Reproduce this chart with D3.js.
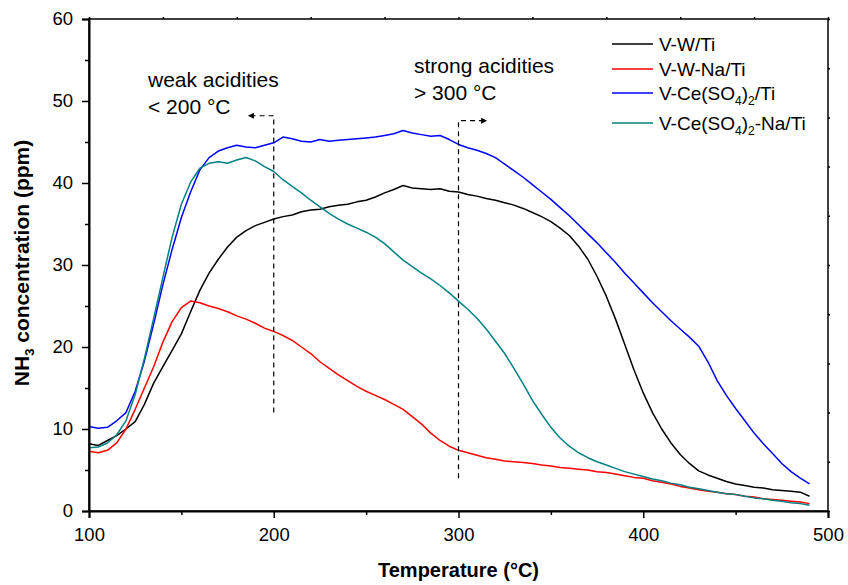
<!DOCTYPE html>
<html>
<head>
<meta charset="utf-8">
<script src="https://cdn.jsdelivr.net/npm/d3@7"></script>
<style>
  body { margin: 0; background: #fff; }
  text { font-family: "Liberation Sans", Arial, sans-serif; }
</style>
</head>
<body>
<svg id="chart" width="848" height="585"></svg>
<script>
// temperature (°C), one reading every 5 degrees
const temps = d3.range(100, 491, 5);

const vwTi = [8.2,8.0,8.6,9.2,10.0,10.9,13.0,15.6,17.6,19.6,
  21.6,24.3,26.9,29.0,30.7,32.2,33.4,34.2,34.8,35.2,
  35.6,35.9,36.1,36.5,36.7,36.8,37.1,37.3,37.4,37.7,
  37.9,38.3,38.8,39.2,39.7,39.4,39.3,39.2,39.3,39.0,
  38.9,38.6,38.4,38.1,37.9,37.6,37.3,36.9,36.4,35.9,
  35.3,34.5,33.6,32.3,30.7,28.6,26.2,23.4,20.3,17.2,
  14.4,12.0,10.0,8.3,6.9,5.8,4.9,4.4,4.0,3.6,
  3.3,3.1,2.9,2.8,2.6,2.5,2.4,2.3,1.8];

const vwNaTi = [7.3,7.1,7.4,8.3,10.0,12.4,15.0,17.6,20.6,23.1,
  24.8,25.6,25.4,25.0,24.7,24.3,23.8,23.4,22.9,22.3,
  21.9,21.4,20.8,20.0,19.2,18.2,17.4,16.6,15.9,15.2,
  14.6,14.1,13.6,13.0,12.4,11.5,10.6,9.5,8.6,7.9,
  7.4,7.1,6.8,6.5,6.3,6.1,6.0,5.9,5.8,5.6,
  5.5,5.3,5.2,5.1,5.0,4.8,4.7,4.5,4.3,4.1,
  4.0,3.7,3.5,3.3,3.0,2.8,2.6,2.4,2.3,2.1,
  2.0,1.8,1.7,1.5,1.4,1.3,1.2,1.1,0.9];

const vCeTi = [10.3,10.1,10.2,11.0,12.0,14.6,18.3,22.8,27.6,31.9,
  35.8,38.9,41.6,43.1,43.9,44.3,44.6,44.4,44.3,44.6,
  44.9,45.6,45.4,45.1,45.0,45.3,45.1,45.2,45.3,45.4,
  45.5,45.6,45.8,46.0,46.4,46.1,45.9,45.7,45.8,45.3,
  44.7,44.3,44.0,43.6,43.1,42.3,41.5,40.7,39.8,38.9,
  38.0,37.0,36.0,34.9,33.8,32.7,31.5,30.3,29.0,27.8,
  26.6,25.4,24.3,23.2,22.2,21.2,20.1,18.2,15.9,14.1,
  12.5,11.0,9.5,8.2,7.0,5.8,4.8,4.0,3.3];

const vCeNaTi = [7.7,7.8,8.3,9.3,11.0,14.2,18.6,23.5,28.5,33.4,
  37.4,40.1,41.8,42.4,42.6,42.4,42.8,43.1,42.7,42.0,
  41.4,40.4,39.6,38.8,37.9,37.1,36.3,35.6,35.0,34.5,
  34.0,33.4,32.6,31.6,30.6,29.8,29.0,28.3,27.5,26.6,
  25.6,24.6,23.5,22.2,20.7,19.2,17.4,15.5,13.5,11.8,
  10.2,8.9,7.9,7.1,6.5,6.0,5.6,5.2,4.8,4.5,
  4.2,3.9,3.7,3.4,3.2,2.9,2.7,2.5,2.3,2.1,
  2.0,1.8,1.6,1.5,1.3,1.2,1.0,0.9,0.7];

const xTicks = [100, 200, 300, 400, 500];
const yTicks = [0, 10, 20, 30, 40, 50, 60];

const series = [
  {name: [["V-W/Ti"]], values: vwTi, color: "#000000"},
  {name: [["V-W-Na/Ti"]], values: vwNaTi, color: "#ff0000"},
  {name: [["V-Ce(SO"], ["4", "sub"], [")"], ["2", "sub"], ["/Ti"]], values: vCeTi, color: "#0000ff"},
  {name: [["V-Ce(SO"], ["4", "sub"], [")"], ["2", "sub"], ["-Na/Ti"]], values: vCeNaTi, color: "#008080"}
];

const plotLeft = 89, plotRight = 828, plotTop = 19, plotBottom = 511;
const svg = d3.select("#chart");

const x = d3.scaleLinear().domain([100, 500]).range([plotLeft, plotRight]);
const y = d3.scaleLinear().domain([0, 60]).range([plotBottom, plotTop]);

// curves
const line = d3.line()
  .x((d, i) => x(temps[i]))
  .y(d => y(d));

svg.append("g")
  .selectAll("path")
  .data(series)
  .join("path")
    .attr("fill", "none")
    .attr("stroke", d => d.color)
    .attr("stroke-width", 1.5)
    .attr("stroke-linejoin", "round")
    .attr("d", d => line(d.values));

// frame + mirror ticks on top/right
svg.append("rect")
  .attr("x", plotLeft).attr("y", plotTop)
  .attr("width", plotRight - plotLeft).attr("height", plotBottom - plotTop)
  .attr("fill", "none").attr("stroke", "#000").attr("stroke-width", 1.5);

const xTop = d3.scaleLinear().domain([0, 10]).range([plotLeft, plotRight]);
const yRight = d3.scaleLinear().domain([0, 10]).range([plotBottom, plotTop]);
svg.append("g")
  .attr("transform", `translate(0,${plotTop})`)
  .call(d3.axisTop(xTop).ticks(10).tickSize(2).tickFormat(""))
  .call(g => g.select(".domain").remove());
svg.append("g")
  .attr("transform", `translate(${plotRight},0)`)
  .call(d3.axisRight(yRight).ticks(10).tickSize(2).tickFormat(""))
  .call(g => g.select(".domain").remove());

// bottom axis
const xAxis = svg.append("g")
  .attr("transform", `translate(0,${plotBottom})`)
  .call(d3.axisBottom(x).tickValues(xTicks).tickSize(7).tickPadding(10).tickFormat(d3.format("d")));
svg.append("g")
  .attr("transform", `translate(0,${plotBottom})`)
  .call(d3.axisBottom(x).tickValues([150, 250, 350, 450]).tickSize(4).tickFormat(""))
  .call(g => g.select(".domain").remove());

// left axis
const yAxis = svg.append("g")
  .attr("transform", `translate(${plotLeft},0)`)
  .call(d3.axisLeft(y).tickValues(yTicks).tickSize(7).tickPadding(9));
svg.append("g")
  .attr("transform", `translate(${plotLeft},0)`)
  .call(d3.axisLeft(y).tickValues([5, 15, 25, 35, 45, 55]).tickSize(4).tickFormat(""))
  .call(g => g.select(".domain").remove());

svg.selectAll(".tick line").attr("stroke-width", 1.5);
svg.selectAll(".domain").attr("stroke-width", 2);
[xAxis, yAxis].forEach(g => g.selectAll("text")
  .style("font-family", "'Liberation Sans', Arial, sans-serif")
  .style("font-size", "18.5px").attr("fill", "#000"));

// axis titles
svg.append("text")
  .attr("x", x(300)).attr("y", 577)
  .attr("text-anchor", "middle")
  .style("font-size", "20px").style("font-weight", "bold")
  .text("Temperature (°C)");

const yTitle = svg.append("text")
  .attr("transform", `translate(29,263) rotate(-90)`)
  .attr("text-anchor", "middle")
  .style("font-size", "21px").style("font-weight", "bold");
yTitle.append("tspan").text("NH");
yTitle.append("tspan").attr("dy", 5).style("font-size", "13px").text("3");
yTitle.append("tspan").attr("dy", -5).text(" concentration (ppm)");

// legend
const legendY = [44, 69, 93, 123];
const legend = svg.append("g");
series.forEach((s, i) => {
  legend.append("line")
    .attr("x1", 612).attr("x2", 653)
    .attr("y1", legendY[i]).attr("y2", legendY[i])
    .attr("stroke", s.color).attr("stroke-width", 1.5);
  const t = legend.append("text")
    .attr("x", 659).attr("y", legendY[i] + 7)
    .style("font-size", "19px");
  let sub = false;
  s.name.forEach(([txt, kind]) => {
    const isSub = kind === "sub";
    const ts = t.append("tspan").text(txt);
    if (isSub) ts.style("font-size", "12px");
    if (isSub !== sub) ts.attr("dy", isSub ? 5 : -5);
    sub = isSub;
  });
});

// annotations
const ann = svg.append("g").style("font-size", "21px");
ann.append("text").attr("x", 148).attr("y", 87).text("weak acidities");
ann.append("text").attr("x", 148).attr("y", 114).text("< 200 °C");
ann.append("text").attr("x", 414).attr("y", 73).text("strong acidities");
ann.append("text").attr("x", 414).attr("y", 100).text("> 300 °C");

svg.append("defs").append("marker")
  .attr("id", "arrow")
  .attr("viewBox", "0 0 10 10")
  .attr("refX", 10).attr("refY", 5)
  .attr("markerWidth", 10).attr("markerHeight", 6)
  .attr("markerUnits", "userSpaceOnUse")
  .attr("orient", "auto")
  .append("path").attr("d", "M0,0L10,5L0,10Z").attr("fill", "#000");

const guides = [
  {t: 200, y0: 12, y1: 48.2, arrowTo: 186},
  {t: 300, y0: 4, y1: 47.6, arrowTo: 315.5}
];
guides.forEach(g => {
  svg.append("path")
    .attr("d", `M${x(g.t)},${y(g.y0)}V${y(g.y1)}H${x(g.arrowTo)}`)
    .attr("fill", "none").attr("stroke", "#000").attr("stroke-width", 1.2)
    .attr("stroke-dasharray", "5,4")
    .attr("marker-end", "url(#arrow)");
});
</script>
</body>
</html>
